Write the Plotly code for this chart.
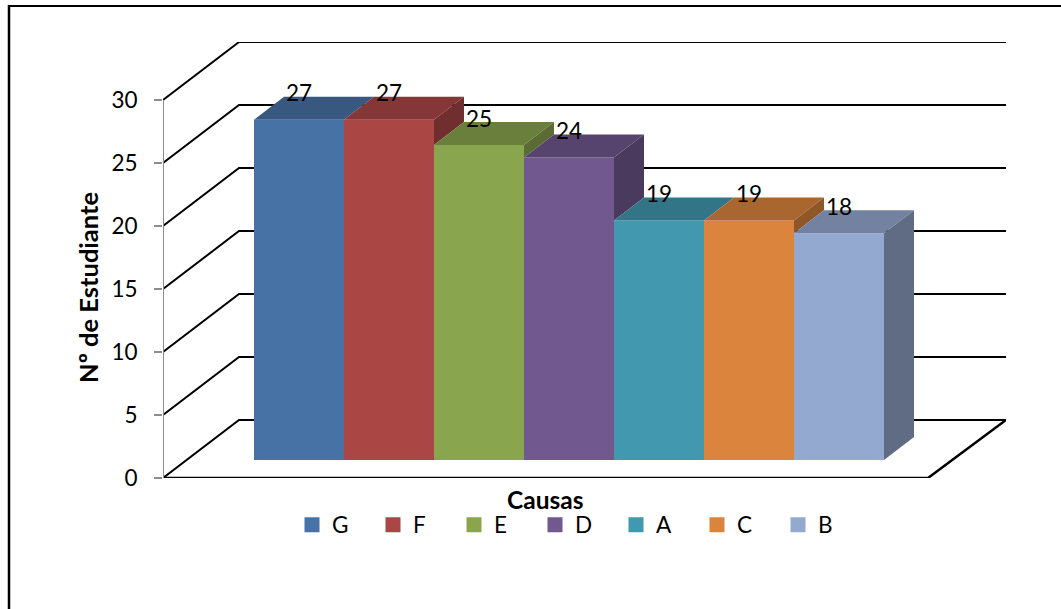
import plotly.graph_objects as go

# Survey results: number of students per cause
categories = ["G", "F", "E", "D", "A", "C", "B"]
values = [27, 27, 25, 24, 19, 19, 18]

front_colors = ["#4672A6", "#AA4644", "#89A54E", "#71588F", "#4198AF", "#DB843D", "#93A9CF"]
top_colors = ["#38587F", "#843736", "#6A7F3C", "#57446E", "#327587", "#A9662F", "#7282A0"]
side_colors = ["#2F4A6C", "#702E2E", "#5A6B33", "#4A3A5D", "#2B6372", "#8F5628", "#5F6C83"]

y_ticks = [0, 5, 10, 15, 20, 25, 30]

# Oblique projection offsets, in axis units
BAR_DX, BAR_DY = 30 / 90, 23 / 12.6
WALL_DX, WALL_DY = 76 / 90, 4.6
FLOOR_RIGHT = (928 - 299) / 90
X_LEFT, X_RIGHT = (163 - 299) / 90, (1006 - 299) / 90
BAR_PLANE = 18 / 12.6

FONT = "Lato"
LABEL_SIZE = 22.5
fig = go.Figure()

# Wall gridlines and floor outline, on the base axes beneath the bars
for tick in y_ticks:
    fig.add_trace(go.Scatter(
        x=[X_LEFT, X_LEFT + WALL_DX, X_RIGHT],
        y=[tick, tick + WALL_DY, tick + WALL_DY],
        mode="lines", line=dict(color="black", width=2),
        showlegend=False, hoverinfo="skip", cliponaxis=False,
    ))
fig.add_trace(go.Scatter(
    x=[X_LEFT, FLOOR_RIGHT, X_RIGHT],
    y=[0, 0, WALL_DY],
    mode="lines", line=dict(color="black", width=2.5),
    showlegend=False, hoverinfo="skip", cliponaxis=False,
))

# Front faces
for i, (name, v) in enumerate(zip(categories, values)):
    fig.add_trace(go.Bar(
        x=[i], y=[v], width=1, name=name, yaxis="y2",
        marker=dict(color=front_colors[i], line=dict(width=0)),
        showlegend=False,
    ))

# Top and side faces; a side only shows above the next bar's top
for i, v in enumerate(values):
    x0, x1 = i - 0.5, i + 0.5
    next_v = values[i + 1] if i + 1 < len(values) else 0
    fig.add_trace(go.Scatter(
        x=[x0, x1, x1 + BAR_DX, x0 + BAR_DX, x0],
        y=[v, v, v + BAR_DY, v + BAR_DY, v],
        yaxis="y2", mode="lines", fill="toself", fillcolor=top_colors[i],
        line=dict(width=0), showlegend=False, hoverinfo="skip",
    ))
    if next_v < v:
        fig.add_trace(go.Scatter(
            x=[x1, x1 + BAR_DX, x1 + BAR_DX, x1, x1],
            y=[v, v + BAR_DY, next_v + BAR_DY, next_v, v],
            yaxis="y2", mode="lines", fill="toself", fillcolor=side_colors[i],
            line=dict(width=0), showlegend=False, hoverinfo="skip",
        ))

# Value labels above each bar
fig.add_trace(go.Scatter(
    x=list(range(len(values))), y=[v + 1.9 for v in values],
    text=[str(v) for v in values], yaxis="y2", mode="text",
    textposition="middle center",
    textfont=dict(family=FONT, size=LABEL_SIZE, color="black"),
    showlegend=False, hoverinfo="skip", cliponaxis=False,
))

# Legend entries
for name, color in zip(categories, front_colors):
    fig.add_trace(go.Scatter(
        x=[None], y=[None], name=name, mode="markers",
        marker=dict(symbol="square", size=15, color=color),
    ))

fig.update_layout(
    width=1061, height=609, autosize=False,
    margin=dict(l=163, r=55, t=42, b=131),
    paper_bgcolor="white", plot_bgcolor="white",
    font=dict(family=FONT, size=LABEL_SIZE, color="black"),
    barmode="overlay",
    xaxis=dict(range=[X_LEFT, X_RIGHT], visible=False),
    yaxis=dict(
        range=[0, 436 / 12.6], tickvals=y_ticks, ticktext=[str(t) for t in y_ticks],
        showgrid=False, zeroline=False, ticks="outside", ticklen=8, tickwidth=2,
        tickcolor="#8C8C8C", tickfont=dict(family=FONT, size=LABEL_SIZE),
        ticklabelstandoff=12,
    ),
    yaxis2=dict(
        overlaying="y", range=[-BAR_PLANE, 436 / 12.6 - BAR_PLANE], visible=False,
    ),
    legend=dict(
        orientation="h", x=(292 - 163) / 843, xanchor="left", y=(478 - 525) / 436,
        yanchor="middle", entrywidth=36, entrywidthmode="pixels",
        itemsizing="trace", font=dict(family=FONT, size=LABEL_SIZE),
        bgcolor="rgba(0,0,0,0)", tracegroupgap=0,
    ),
    shapes=[
        # Front edge of the value axis
        dict(type="line", xref="x", yref="y", x0=X_LEFT, x1=X_LEFT, y0=0, y1=30,
             line=dict(color="#8C8C8C", width=2)),
        # Frame: left and top edges
        dict(type="line", xref="paper", yref="paper", layer="above",
             x0=(9 - 163) / 843, x1=(9 - 163) / 843,
             y0=(478 - 609) / 436, y1=(478 - 5) / 436,
             line=dict(color="black", width=2.5)),
        dict(type="line", xref="paper", yref="paper", layer="above",
             x0=(8 - 163) / 843, x1=(1061 - 163) / 843,
             y0=(478 - 6) / 436, y1=(478 - 6) / 436,
             line=dict(color="black", width=2)),
    ],
    annotations=[
        dict(text="<b>Nº de Estudiante</b>",
             textangle=-90, xref="paper", yref="paper",
             x=(88 - 163) / 843, y=(478 - 288) / 436, showarrow=False,
             xanchor="center", yanchor="middle", font=dict(family=FONT, size=25.5)),
        dict(text="<b>Causas</b>", xref="paper", yref="paper",
             x=(545 - 163) / 843, y=(478 - 499) / 436, showarrow=False,
             xanchor="center", yanchor="middle", font=dict(family=FONT, size=24.5)),
    ],
)

fig.write_html("out.html")
